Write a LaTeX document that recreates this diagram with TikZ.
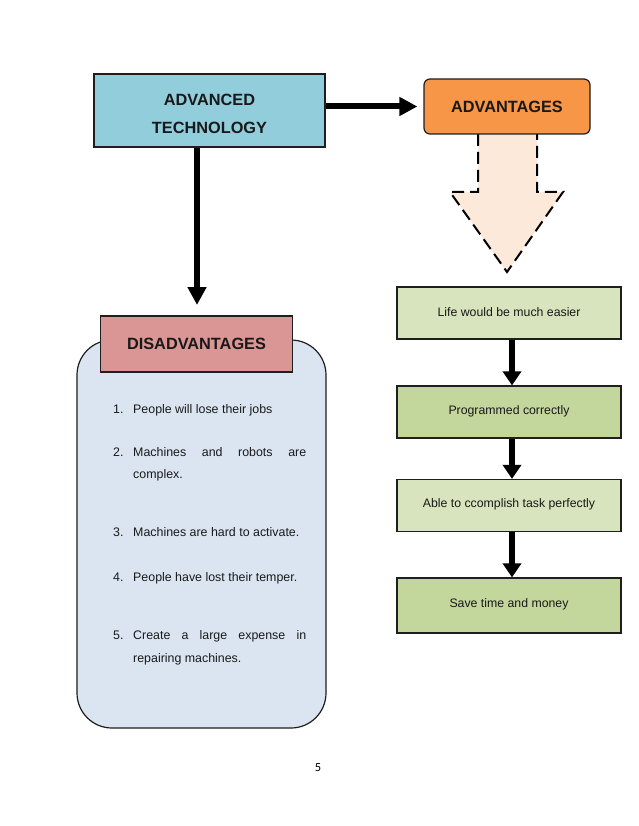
\documentclass[tikz,border=0pt]{standalone}
\usepackage{fontspec}
\setmainfont{Liberation Sans}
\newfontfamily\pagenumfont{Carlito}
\usetikzlibrary{arrows.meta}
\definecolor{techblue}{HTML}{92CDDC}
\definecolor{advorange}{HTML}{F79646}
\definecolor{peach}{HTML}{FDE9D9}
\definecolor{disred}{HTML}{D99694}
\definecolor{paleblue}{HTML}{DBE5F1}
\definecolor{lightgreen}{HTML}{D7E4BD}
\definecolor{midgreen}{HTML}{C3D69B}
\definecolor{edge}{HTML}{1E1E1E}
\begin{document}
\begin{tikzpicture}[x=1pt,y=-1pt,
  boxstyle/.style={draw=edge, line width=1.2pt, inner sep=0pt},
  bigtext/.style={font=\fontsize{16.3}{28}\selectfont\bfseries, text=black!90, inner sep=0pt},
  smalltext/.style={font=\fontsize{12.3}{15}\selectfont, text=black!90, inner sep=0pt},
  listtext/.style={font=\fontsize{12.4}{15}\selectfont, text=black!90, inner sep=0pt, anchor=base west},
  greenbox/.style={boxstyle, minimum width=224pt, minimum height=52pt},
  bigarrow/.style={line width=6pt, -{Triangle[length=18pt,width=18pt]}},
  smallarrow/.style={line width=6pt, -{Triangle[length=14pt,width=18pt]}},
]
\useasboundingbox[fill=white] (0,0) rectangle (638,826);

% Advanced technology
\node[boxstyle, fill=techblue, minimum width=231pt, minimum height=73pt] (techbox) at (209.5,110.5) {};
\node[bigtext, align=center] (techlabel) at (209.5,114) {ADVANCED\\TECHNOLOGY};

% Dashed block arrow
\filldraw[fill=peach, draw=black, line width=2pt, dash pattern=on 12pt off 6pt]
  (478,134) -- (478,192) -- (450,192) -- (507,272) -- (563,192) -- (537,192) -- (537,134);

% Advantages
\node[boxstyle, fill=advorange, rounded corners=6pt, minimum width=166pt, minimum height=55pt] (adv) at (507,106.5) {};
\node[bigtext] (advlabel) at (507,107) {ADVANTAGES};

\draw[bigarrow] (techbox.east |- adv.west) -- ([xshift=-6pt]adv.west);

% Disadvantages
\coordinate (dtip) at (197,305);
\draw[bigarrow] (techbox.south -| dtip) -- (dtip);

\node[boxstyle, fill=paleblue, rounded corners=35pt, minimum width=249pt, minimum height=388pt] (disbody) at (201.5,534) {};
\node[boxstyle, fill=disred, minimum width=192pt, minimum height=56pt] (disbox) at (196.5,344) {};
\node[bigtext] (dislabel) at (196.5,344) {DISADVANTAGES};

% List
\node[listtext] (n1) at (113,413.5) {1.};
\node[listtext] (t1) at (133,413.5) {People will lose their jobs};
\node[listtext] (n2) at (113,456.5) {2.};
\node[listtext] (t2a) at (133,456.5) {\makebox[173pt][s]{Machines and robots are}};
\node[listtext] (t2b) at (133,478) {complex.};
\node[listtext] (n3) at (113,536.5) {3.};
\node[listtext] (t3) at (133,536.5) {Machines are hard to activate.};
\node[listtext] (n4) at (113,581.5) {4.};
\node[listtext] (t4) at (133,581.5) {People have lost their temper.};
\node[listtext] (n5) at (113,639.5) {5.};
\node[listtext] (t5a) at (133,639.5) {\makebox[173pt][s]{Create a large expense in}};
\node[listtext] (t5b) at (133,662.5) {repairing machines.};

% Right chain
\node[greenbox, fill=lightgreen] (g1) at (509,313) {};
\node[smalltext] (g1t) at (509,312) {Life would be much easier};
\node[greenbox, fill=midgreen] (g2) at (509,412) {};
\node[smalltext] (g2t) at (509,411) {Programmed correctly};
\node[greenbox, fill=lightgreen] (g3) at (509,505.5) {};
\node[smalltext] (g3t) at (509,504) {Able to ccomplish task perfectly};
\node[greenbox, fill=midgreen, minimum height=55pt] (g4) at (509,605.5) {};
\node[smalltext] (g4t) at (509,604) {Save time and money};

\draw[smallarrow] ([xshift=3pt]g1.south) -- ([xshift=3pt]g2.north);
\draw[smallarrow] ([xshift=3pt]g2.south) -- ([xshift=3pt]g3.north);
\draw[smallarrow] ([xshift=3pt]g3.south) -- ([xshift=3pt]g4.north);

% Page number
\node[font=\pagenumfont\fontsize{12.5}{14}\selectfont, inner sep=0pt] (pnum) at (318,768) {5};
\end{tikzpicture}
\end{document}
